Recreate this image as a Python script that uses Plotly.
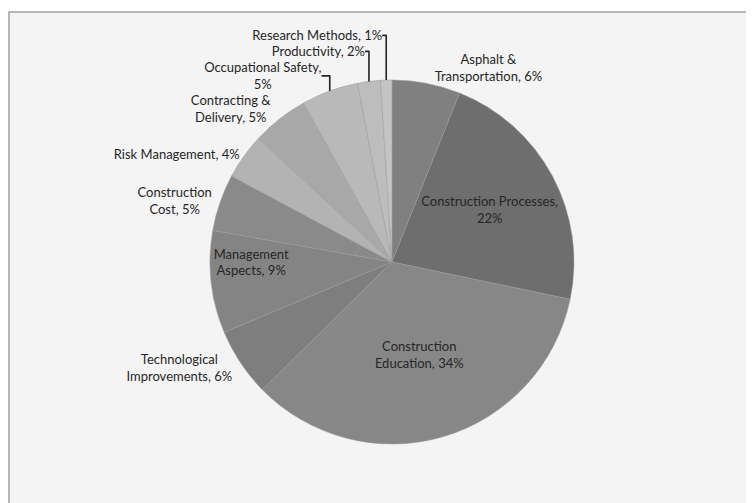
import plotly.graph_objects as go

categories = [
    "Asphalt & Transportation",
    "Construction Processes",
    "Construction Education",
    "Technological Improvements",
    "Management Aspects",
    "Construction Cost",
    "Risk Management",
    "Contracting & Delivery",
    "Occupational Safety",
    "Productivity",
    "Research Methods",
]
display_labels = [
    "Asphalt &<br>Transportation",
    "Construction Processes,<br>",
    "Construction<br>Education",
    "Technological<br>Improvements",
    "Management<br>Aspects",
    "Construction<br>Cost",
    "Risk Management",
    "Contracting &<br>Delivery",
    "Occupational Safety,<br>",
    "Productivity",
    "Research Methods",
]
shares = [6, 22, 34, 6, 9, 5, 4, 5, 5, 2, 1]

slice_colors = ["#808080", "#6e6e6e", "#878787", "#7e7e7e", "#848484", "#8a8a8a",
                "#b3b3b3", "#a8a8a8", "#b9b9b9", "#bdbdbd", "#c4c4c4"]
positions = ["outside", "inside", "inside", "outside", "inside", "outside",
             "outside", "outside", "outside", "outside", "outside"]

texts = []
for lab, v in zip(display_labels, shares):
    if lab.endswith("<br>"):
        texts.append(f"{lab}{v}%")
    else:
        texts.append(f"{lab}, {v}%")

# the page body has an 8px default margin; compensate so the chart sits like the reference
OFF = 8
W, H = 754, 503
cx, cy, r = 392 - OFF, 262 - OFF, 182

fig = go.Figure(go.Pie(
    labels=categories,
    values=shares,
    text=texts,
    textinfo="text",
    textposition=positions,
    sort=False,
    direction="clockwise",
    rotation=0,
    marker=dict(colors=slice_colors, line=dict(color="#9a9a9a", width=0.5)),
    insidetextfont=dict(family="Lato", size=13, color="#262626"),
    outsidetextfont=dict(family="Lato", size=13, color="#262626"),
    insidetextorientation="horizontal",
    showlegend=False,
    hoverinfo="label+value",
    domain=dict(x=[(cx - r) / W, (cx + r) / W], y=[1 - (cy + r) / H, 1 - (cy - r) / H]),
))

fig.update_layout(
    width=W, height=H,
    margin=dict(l=0, r=0, t=0, b=0),
    paper_bgcolor="white",
    plot_bgcolor="white",
    font=dict(family="Lato", size=13, color="#262626"),
    shapes=[dict(type="rect", xref="paper", yref="paper",
                 x0=(9 - OFF) / W, x1=1.05, y0=-0.05, y1=1 - (12 - OFF) / H,
                 fillcolor="#f4f4f4", line=dict(color="#a0a0a0", width=1.5),
                 layer="below")],
)

fig.write_html("out.html")
